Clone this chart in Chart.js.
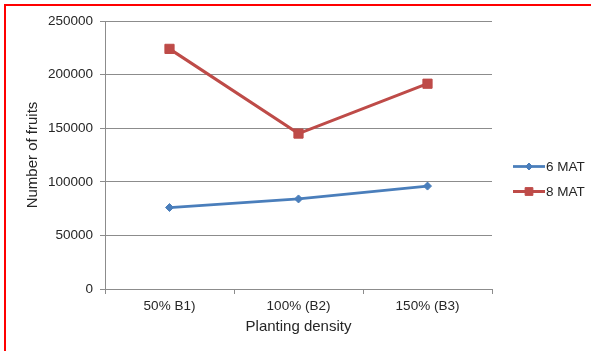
<!DOCTYPE html>
<html>
<head>
<meta charset="utf-8">
<script src="https://cdn.jsdelivr.net/npm/chart.js@4.4.1/dist/chart.umd.min.js"></script>
<style>
  html, body { margin: 0; padding: 0; background: #ffffff; overflow: hidden; }
  canvas { display: block; }
</style>
</head>
<body>
<canvas id="chart" width="591" height="351"></canvas>
<script>
// Fruit counts per planting density
const categories = ['50% B1)', '100% (B2)', '150% (B3)'];
const seriesNames = ['6 MAT', '8 MAT'];
const mat6 = [76000, 84000, 96000];
const mat8 = [224000, 145000, 191500];
const yTicks = [0, 50000, 100000, 150000, 200000, 250000];

const FONT = '"Liberation Sans", Arial, sans-serif';
const GRID = '#8c8c8c';
const TEXT = '#262626';

// Red frame along the top and left edges of the figure
const frame = {
  id: 'frame',
  afterDraw(chart) {
    const ctx = chart.ctx;
    ctx.save();
    ctx.strokeStyle = '#ff0000';
    ctx.lineWidth = 2;
    ctx.beginPath();
    ctx.moveTo(5, chart.height);
    ctx.lineTo(5, 5);
    ctx.lineTo(chart.width, 5);
    ctx.stroke();
    ctx.restore();
  }
};

// Legend drawn on the right: a short line with a smaller marker, then the label
const sideLegend = {
  id: 'sideLegend',
  afterDraw(chart) {
    const ctx = chart.ctx;
    const x0 = 513, x1 = 545, rowY = [166.5, 191.5];
    const legendRadius = [3.5, 5.5];
    chart.data.datasets.forEach((ds, i) => {
      const y = rowY[i];
      ctx.save();
      ctx.strokeStyle = ds.borderColor;
      ctx.lineWidth = ds.borderWidth;
      ctx.beginPath();
      ctx.moveTo(x0, y);
      ctx.lineTo(x1, y);
      ctx.stroke();
      ctx.fillStyle = ds.pointBackgroundColor;
      ctx.strokeStyle = ds.pointBorderColor;
      ctx.lineWidth = 1;
      Chart.helpers.drawPoint(ctx, {
        pointStyle: ds.pointStyle,
        radius: legendRadius[i],
        borderWidth: 1,
        rotation: 0
      }, (x0 + x1) / 2, y);
      ctx.fillStyle = TEXT;
      ctx.font = '13.5px ' + FONT;
      ctx.textAlign = 'left';
      ctx.textBaseline = 'middle';
      ctx.fillText(ds.label, x1 + 1, y + 0.5);
      ctx.restore();
    });
  }
};

new Chart(document.getElementById('chart'), {
  type: 'line',
  data: {
    labels: categories,
    datasets: [
      {
        label: seriesNames[0],
        data: mat6,
        borderColor: '#4a7ebb',
        backgroundColor: '#4a7ebb',
        pointBackgroundColor: '#4a7ebb',
        pointBorderColor: '#4a7ebb',
        borderWidth: 2.75,
        pointStyle: 'rectRot',
        pointRadius: 4,
        pointBorderWidth: 1,
        tension: 0
      },
      {
        label: seriesNames[1],
        data: mat8,
        borderColor: '#be4b48',
        backgroundColor: '#be4b48',
        pointBackgroundColor: '#be4b48',
        pointBorderColor: '#be4b48',
        borderWidth: 3,
        pointStyle: 'rect',
        pointRadius: 6.5,
        pointBorderWidth: 1,
        tension: 0
      }
    ]
  },
  options: {
    responsive: false,
    animation: false,
    devicePixelRatio: 1,
    layout: { padding: { top: 21, right: 99, left: 0, bottom: 0 } },
    plugins: {
      legend: { display: false },
      tooltip: { enabled: false }
    },
    scales: {
      x: {
        offset: true,
        grid: {
          offset: true,
          drawOnChartArea: false,
          drawTicks: true,
          tickLength: 5,
          color: GRID
        },
        border: { color: GRID, width: 1 },
        ticks: { color: TEXT, font: { family: FONT, size: 13.5 }, padding: 4, maxRotation: 0 },
        title: {
          display: true,
          text: 'Planting density',
          color: TEXT,
          font: { family: FONT, size: 15 },
          padding: { top: 0, bottom: 15 }
        },
        afterFit(scale) { scale.height = 62; }
      },
      y: {
        min: 0,
        max: 250000,
        afterBuildTicks(scale) { scale.ticks = yTicks.map(v => ({ value: v })); },
        grid: { color: GRID, tickLength: 5, lineWidth: 1 },
        border: { color: GRID, width: 1 },
        ticks: {
          color: TEXT,
          font: { family: FONT, size: 13.5 },
          padding: 7,
          callback: v => String(v)
        },
        title: {
          display: true,
          text: 'Number of fruits',
          color: TEXT,
          font: { family: FONT, size: 15 },
          padding: { top: 24, bottom: 0 }
        },
        afterFit(scale) { scale.width = 105; }
      }
    }
  },
  plugins: [frame, sideLegend]
});
</script>
</body>
</html>
